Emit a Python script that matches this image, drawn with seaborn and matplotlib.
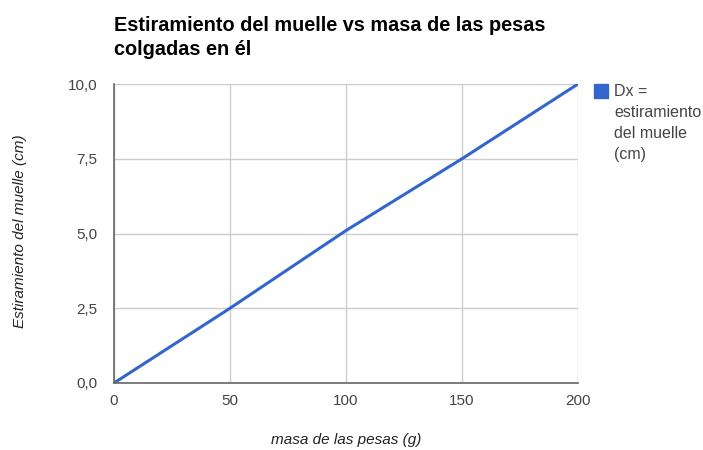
import matplotlib
matplotlib.use("Agg")
import matplotlib.pyplot as plt
import seaborn as sns
import pandas as pd

# Masa colgada (g) y estiramiento medido del muelle (cm)
masa_g = [0, 50, 100, 150, 200]
estiramiento_cm = [0.0, 2.5, 5.1, 7.5, 10.0]
x_ticks = [0, 50, 100, 150, 200]
y_ticks = [0.0, 2.5, 5.0, 7.5, 10.0]
y_tick_labels = ["0,0", "2,5", "5,0", "7,5", "10,0"]
serie = "Dx =\nestiramiento\ndel muelle\n(cm)"

df = pd.DataFrame({"masa": masa_g, "dx": estiramiento_cm})

sns.set_style("white")
plt.rcParams["font.family"] = ["Liberation Sans", "DejaVu Sans"]

W, H = 703, 450
fig = plt.figure(figsize=(W / 100, H / 100), dpi=100)
ax = fig.add_axes([114 / W, 1 - 383 / H, 464 / W, 299 / H])

sns.lineplot(data=df, x="masa", y="dx", ax=ax, color="#3366cc",
             linewidth=2.2, legend=False, zorder=3)

ax.set_xlim(0, 200)
ax.set_ylim(0, 10)
ax.set_xticks(x_ticks)
ax.set_xticklabels([str(v) for v in x_ticks])
ax.set_yticks(y_ticks)
ax.set_yticklabels(y_tick_labels)
ax.grid(True, color="#cccccc", linewidth=1)
ax.tick_params(axis="both", length=0, labelsize=11, colors="#444444")
ax.tick_params(axis="x", pad=8)
ax.tick_params(axis="y", pad=12)

for side in ["top", "right"]:
    ax.spines[side].set_visible(False)
for side in ["left", "bottom"]:
    ax.spines[side].set_color("#666666")
    ax.spines[side].set_linewidth(1.2)
    ax.spines[side].set_zorder(4)

ax.set_xlabel("masa de las pesas (g)", fontsize=11, style="italic",
              color="#222222")
ax.set_ylabel("Estiramiento del muelle (cm)", fontsize=11, style="italic",
              color="#222222")
ax.xaxis.set_label_coords(0.5, (383 - 440) / 299)
ax.yaxis.set_label_coords((20 - 114) / 464, (383 - 231) / 299)
ax.xaxis.label.set_va("center")
ax.yaxis.label.set_va("center")

fig.text(114 / W, 1 - 31 / H, "Estiramiento del muelle vs masa de las pesas",
         fontsize=14.3, fontweight="bold", color="#000000",
         va="baseline", ha="left")
fig.text(114 / W, 1 - 55 / H, "colgadas en él",
         fontsize=14.3, fontweight="bold", color="#000000",
         va="baseline", ha="left")

# Leyenda: cuadrado de color y texto de la serie
fig.patches.append(plt.Rectangle((594 / W, 1 - 98 / H), 14 / W, 14 / H,
                                 transform=fig.transFigure, color="#3366cc"))
fig.text(614 / W, 1 - 84 / H, serie, fontsize=11.5, color="#444444",
         va="top", ha="left", linespacing=1.5)

fig.savefig("out.png", dpi=100)
